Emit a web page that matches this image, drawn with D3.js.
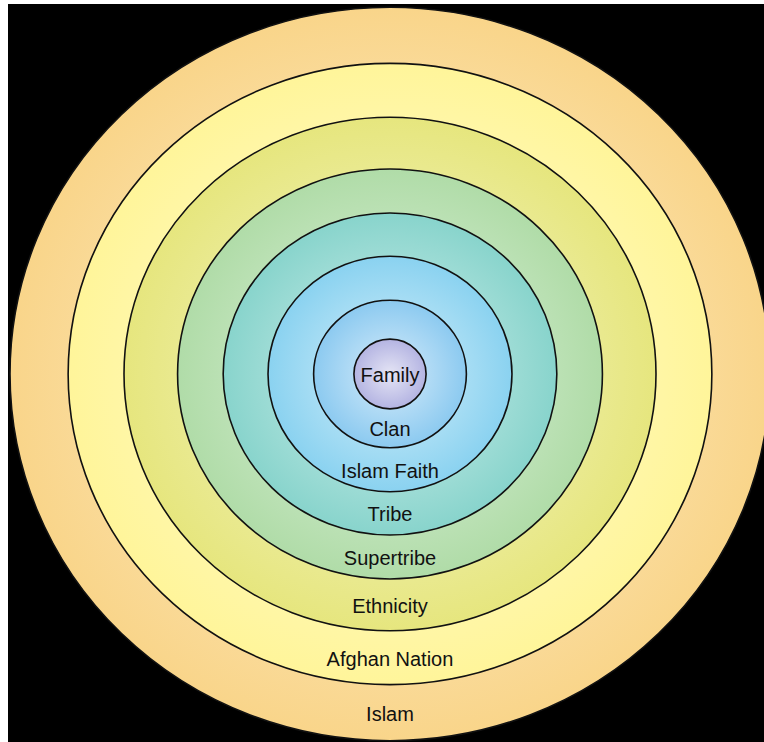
<!DOCTYPE html>
<html>
<head>
<meta charset="utf-8">
<script src="https://cdn.jsdelivr.net/npm/d3@7"></script>
<style>
  html, body { margin: 0; padding: 0; background: #ffffff; }
  svg { display: block; }
</style>
</head>
<body>
<script>
// Levels from innermost to outermost
const levels = ["Family", "Clan", "Islam Faith", "Tribe", "Supertribe", "Ethnicity", "Afghan Nation", "Islam"];
// Relative scope (outer radius of each circle, arbitrary units)
const scope = [0.95, 2.01, 3.21, 4.39, 5.59, 7.0, 8.47, 10.0];
const colors = ["#b4b4e2", "#8ccaf0", "#8ad2f0", "#88d4cc", "#b0dca8", "#e6e67e", "#fff59a", "#f9d58a"];

const W = 764, H = 742;
const cx = 390, cy = 374, sy = 0.965;

const svg = d3.select("body").append("svg").attr("width", W).attr("height", H);

svg.append("rect").attr("x", 8).attr("y", 4).attr("width", W - 8).attr("height", H - 4).attr("fill", "#000");

const r = d3.scaleLinear().domain([0, 10]).range([0, 380]);

const defs = svg.append("defs");
levels.forEach((name, i) => {
  const g = defs.append("radialGradient").attr("id", "g" + i)
    .attr("cx", "50%").attr("cy", "50%").attr("r", "50%");
  const base = d3.color(colors[i]);
  g.append("stop").attr("offset", "0%").attr("stop-color", d3.interpolateRgb(base, "#ffffff")(0.65));
  g.append("stop").attr("offset", "100%").attr("stop-color", base.formatHex());
});

const data = levels.map((name, i) => ({ name, i, v: scope[i], prev: i > 0 ? scope[i - 1] : 0 }));

svg.selectAll("ellipse.ring")
  .data(data.slice().reverse())
  .join("ellipse")
  .attr("class", "ring")
  .attr("cx", cx).attr("cy", cy)
  .attr("rx", d => r(d.v))
  .attr("ry", d => r(d.v) * sy)
  .attr("fill", d => `url(#g${d.i})`)
  .attr("stroke", "#111")
  .attr("stroke-width", 1.6);

svg.selectAll("text.lab")
  .data(data)
  .join("text")
  .attr("class", "lab")
  .attr("x", cx)
  .attr("y", d => d.i === 0 ? cy + 1 : cy + r((d.v + d.prev) / 2) * sy + 1)
  .attr("text-anchor", "middle")
  .attr("dominant-baseline", "central")
  .attr("font-family", "'Liberation Sans', Arial, sans-serif")
  .attr("font-size", 20)
  .attr("fill", "#111")
  .text(d => d.name);
</script>
</body>
</html>
